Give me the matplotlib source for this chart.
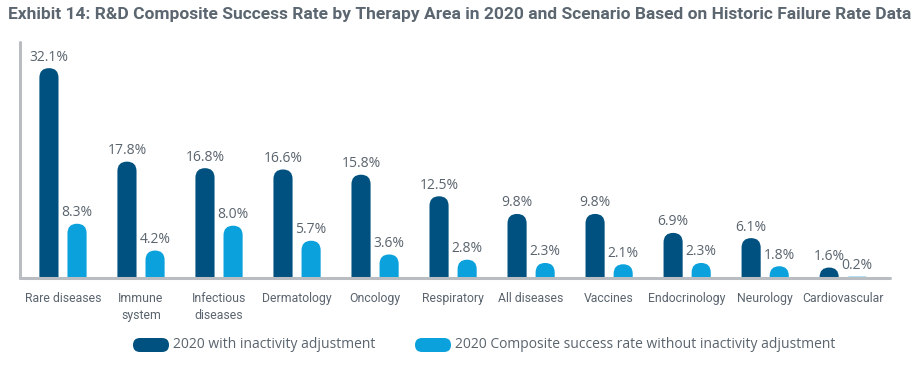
import matplotlib
matplotlib.use('Agg')
import matplotlib.pyplot as plt
from matplotlib.patches import FancyBboxPatch
import numpy as np

categories = ['Rare diseases', 'Immune\nsystem', 'Infectious\ndiseases', 'Dermatology', 'Oncology',
              'Respiratory', 'All diseases', 'Vaccines', 'Endocrinology', 'Neurology', 'Cardiovascular']
with_adj = [32.1, 17.8, 16.8, 16.6, 15.8, 12.5, 9.8, 9.8, 6.9, 6.1, 1.6]
without_adj = [8.3, 4.2, 8.0, 5.7, 3.6, 2.8, 2.3, 2.1, 2.3, 1.8, 0.2]
series_names = ['2020 with inactivity adjustment',
                '2020 Composite success rate without inactivity adjustment']
title = 'Exhibit 14: R&D Composite Success Rate by Therapy Area in 2020 and Scenario Based on Historic Failure Rate Data'

dark = '#00517f'
light = '#0aa1dc'
grey_txt = '#5a646e'
axis_col = '#b9bdc2'

plt.rcParams['font.family'] = ['Open Sans', 'DejaVu Sans']

W, H = 913, 366
fig = plt.figure(figsize=(W / 100, H / 100), dpi=100)
# axes box in pixels: left 20, right 890, top 42, bottom 278
ax = fig.add_axes([20 / W, (H - 278) / H, 870 / W, 236 / H])
ax.set_xlim(-0.551, 10.6)
ax.set_ylim(0, 36.1)

x = np.arange(len(categories))
bw = 0.245
off = 0.18

# pixel scale for rounded tops
px_x = (10.6 + 0.551) / 870
px_y = 36.1 / 236
aspect = px_y / px_x
r_full = bw / 2

for vals, col, sign in [(with_adj, dark, -1), (without_adj, light, 1)]:
    for xi, v in zip(x, vals):
        left = xi + sign * off - bw / 2
        r = min(r_full, v / aspect)
        ext = r * aspect
        p = FancyBboxPatch((left, -ext), bw, v + ext,
                           boxstyle=f'round,pad=0,rounding_size={r}',
                           mutation_aspect=aspect, fc=col, ec='none')
        ax.add_patch(p)
        ax.annotate(f'{v:.1f}%', (xi + sign * off, v), xytext=(0, 2.5),
                    textcoords='offset points', ha='center', va='bottom',
                    fontsize=10, color=grey_txt)

for s in ['top', 'right']:
    ax.spines[s].set_visible(False)
for s in ['left', 'bottom']:
    ax.spines[s].set_color(axis_col)
    ax.spines[s].set_linewidth(2.2)
    ax.spines[s].set_capstyle('round')
ax.set_yticks([])
ax.set_xticks(x)
ax.set_xticklabels(categories, fontsize=8.8, color=grey_txt, linespacing=1.45,
                   family=['Roboto', 'DejaVu Sans'])
ax.tick_params(axis='x', length=0, pad=10)

fig.text(8 / W, 1 - 15 / H, title, fontsize=12.5, fontweight='bold', color='#5b6670',
         va='center', ha='left', family=['Roboto', 'DejaVu Sans'])

# legend pills
for (x0, x1, col, lab) in [(133, 169, dark, series_names[0]), (415, 451, light, series_names[1])]:
    pill = FancyBboxPatch((x0 / W, (H - 352) / H), (x1 - x0) / W, 14 / H,
                          boxstyle=f'round,pad=0,rounding_size={7 / W}',
                          mutation_aspect=W / H, fc=col, ec='none', transform=fig.transFigure)
    fig.patches.append(pill)
    fig.text((x1 + 4) / W, (H - 345) / H, lab, fontsize=10, color=grey_txt, va='center', ha='left')

fig.savefig('out.png', dpi=100)
